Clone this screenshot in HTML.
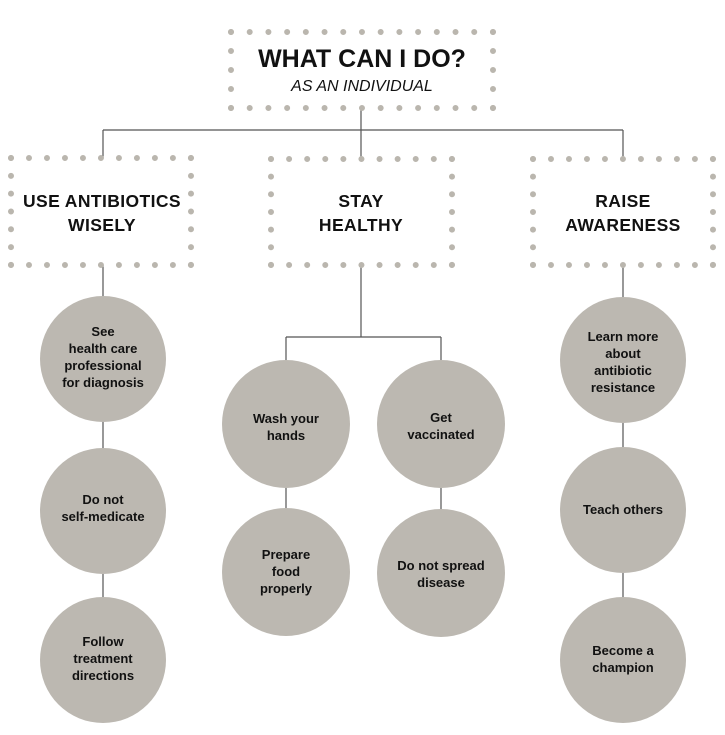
<!DOCTYPE html>
<html><head><style>
html,body{margin:0;padding:0;background:#fff;}
svg{display:block;}
.d{stroke:#bab6ae;stroke-width:6;stroke-linecap:round;fill:none;}
.l{stroke:#555;stroke-width:1.2;fill:none;}
.c{fill:#bcb8b1;}
.t{font-family:"Liberation Sans",sans-serif;font-weight:bold;font-size:13px;fill:#111;text-anchor:middle;}
.h{font-family:"Liberation Sans",sans-serif;font-weight:bold;font-size:17.5px;fill:#111;text-anchor:middle;letter-spacing:0.4px;}
</style></head><body>
<svg width="725" height="735" viewBox="0 0 725 735" xmlns="http://www.w3.org/2000/svg">
<path class="l" d="M361 108V130M103 130H623M103 130V158M361 130V159M623 130V159"/>
<path class="l" d="M103 265V298M103 420V448M103 574V598"/>
<path class="l" d="M361 265V337M286 337H441M286 337V360M441 337V360M286 488V508M441 488V510"/>
<path class="l" d="M623 265V298M623 422V448M623 572V598"/>
<g class="d">
<path d="M231 32H493.5M231 108H493.5" stroke-dasharray="0 18.71"/>
<path d="M231 32V108.5M493 32V108.5" stroke-dasharray="0 18.99"/>
<path d="M11 158H191.5M11 265H191.5" stroke-dasharray="0 17.99"/>
<path d="M11 158V265.5M191 158V265.5" stroke-dasharray="0 17.82"/>
<path d="M271 159H452.5M271 265H452.5" stroke-dasharray="0 18.09"/>
<path d="M271 159V265.5M452 159V265.5" stroke-dasharray="0 17.65"/>
<path d="M533 159H713.5M533 265H713.5" stroke-dasharray="0 17.99"/>
<path d="M533 159V265.5M713 159V265.5" stroke-dasharray="0 17.65"/>
</g>
<text x="362" y="67" font-family="Liberation Sans,sans-serif" font-weight="bold" font-size="25" text-anchor="middle" fill="#111">WHAT CAN I DO?</text>
<text x="362" y="91" font-family="Liberation Sans,sans-serif" font-style="italic" font-size="16" text-anchor="middle" fill="#111">AS AN INDIVIDUAL</text>
<text class="h" x="102" y="207">USE ANTIBIOTICS</text>
<text class="h" x="102" y="231">WISELY</text>
<text class="h" x="361" y="207">STAY</text>
<text class="h" x="361" y="231">HEALTHY</text>
<text class="h" x="623" y="207">RAISE</text>
<text class="h" x="623" y="231">AWARENESS</text>
<g>
<circle class="c" cx="103" cy="359" r="63"/>
<circle class="c" cx="103" cy="511" r="63"/>
<circle class="c" cx="103" cy="660" r="63"/>
<circle class="c" cx="286" cy="424" r="64"/>
<circle class="c" cx="441" cy="424" r="64"/>
<circle class="c" cx="286" cy="572" r="64"/>
<circle class="c" cx="441" cy="573" r="64"/>
<circle class="c" cx="623" cy="360" r="63"/>
<circle class="c" cx="623" cy="510" r="63"/>
<circle class="c" cx="623" cy="660" r="63"/>
</g>
<g class="t">
<text x="103" y="336">See</text><text x="103" y="353">health care</text><text x="103" y="370">professional</text><text x="103" y="387">for diagnosis</text>
<text x="103" y="504">Do not</text><text x="103" y="521">self-medicate</text>
<text x="103" y="646">Follow</text><text x="103" y="663">treatment</text><text x="103" y="680">directions</text>
<text x="286" y="423">Wash your</text><text x="286" y="440">hands</text>
<text x="441" y="422">Get</text><text x="441" y="439">vaccinated</text>
<text x="286" y="559">Prepare</text><text x="286" y="576">food</text><text x="286" y="593">properly</text>
<text x="441" y="570">Do not spread</text><text x="441" y="587">disease</text>
<text x="623" y="341">Learn more</text><text x="623" y="358">about</text><text x="623" y="375">antibiotic</text><text x="623" y="392">resistance</text>
<text x="623" y="514">Teach others</text>
<text x="623" y="655">Become a</text><text x="623" y="672">champion</text>
</g>
</svg>
</body></html>
